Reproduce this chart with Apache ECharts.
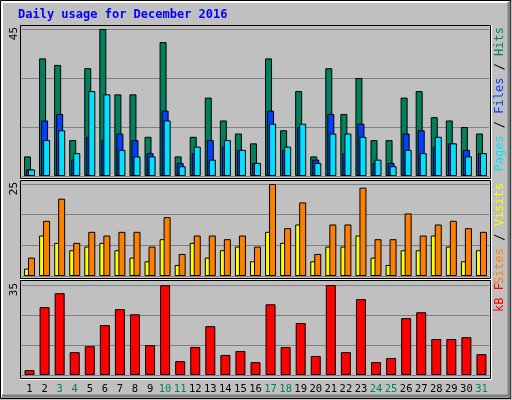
<!DOCTYPE html>
<html><head><meta charset="utf-8">
<script src="https://cdn.jsdelivr.net/npm/echarts@6/dist/echarts.min.js"></script>
<style>html,body{margin:0;padding:0;background:#c0c0c0}#c{width:512px;height:400px}</style>
</head><body><div id="c"></div>
<script>
const days = ['1','2','3','4','5','6','7','8','9','10','11','12','13','14','15','16','17','18','19','20','21','22','23','24','25','26','27','28','29','30','31'];
const weekend = ['3','4','10','11','17','18','24','25','31'];
const hits  = [6,36,34,11,33,45,25,25,12,41,6,12,24,17,13,10,36,14,26,6,33,19,30,11,11,24,26,18,17,15,13];
const files = [2,17,19,5,12,11,13,11,7,20,4,7,11,9,8,4,20,8,15,5,19,7,16,4,4,13,14,9,10,8,7];
const pages = [2,11,14,7,26,25,8,6,6,17,3,9,5,11,8,4,16,9,16,4,13,13,12,5,3,8,7,12,10,6,7];
const sites = [2,11,9,7,8,9,7,5,4,10,3,9,5,7,8,4,12,9,14,4,8,8,11,5,3,7,7,11,8,4,7];
const visits= [5,15,21,9,12,11,12,12,8,16,6,11,11,10,11,8,25,13,20,6,14,14,24,10,10,17,11,14,15,13,12];
const kbytes= [1.9,26.4,31.8,8.9,11.2,19.4,25.6,23.6,11.6,34.9,5.4,10.9,19,7.8,9.3,5,27.5,10.9,20.2,7.4,35,8.9,29.5,5,6.6,22.1,24.4,14,14,14.7,8.1];
const maxLabels = ['45','25','35'];
const maxVals = [45,25,35];

const F = 'DejaVu Sans Mono';
const grids = [
  {left:22,width:467,top:29,height:147},
  {left:22,width:467,top:184,height:92},
  {left:22,width:467,top:285,height:90}
];
const frames = [[20,25,470,153],[20,180,470,98],[20,280,470,98]];
const xAxis = grids.map((g,i)=>({type:'category',gridIndex:i,data:days,
  axisLine:{show:false},axisTick:{show:false},
  axisLabel:{show:i===2,margin:9,fontFamily:F,fontSize:10,interval:0,
    formatter:v=>weekend.includes(v)?'{w|'+v+'}':'{n|'+v+'}',
    rich:{w:{color:'#00805c',fontFamily:F,fontSize:10.5},n:{color:'#000',fontFamily:F,fontSize:10.5}}}}));
const yAxis = maxVals.map((m,i)=>({type:'value',gridIndex:i,min:0,max:m,interval:m/3,
  axisLabel:{show:false},axisLine:{show:false},axisTick:{show:false},
  splitLine:{lineStyle:{color:'#808080',width:1}}}));
const bs = c=>({color:c,borderColor:'#000',borderWidth:1});
const series = [
  {type:'bar',xAxisIndex:0,yAxisIndex:0,data:hits,barWidth:7,barGap:'-71%',itemStyle:bs('#00805c')},
  {type:'bar',xAxisIndex:0,yAxisIndex:0,data:files,barWidth:7,barGap:'-71%',itemStyle:bs('#0040ff')},
  {type:'bar',xAxisIndex:0,yAxisIndex:0,data:pages,barWidth:7,barGap:'-71%',itemStyle:bs('#00e0ff')},
  {type:'bar',xAxisIndex:1,yAxisIndex:1,data:sites,barWidth:7,barGap:'-43%',itemStyle:bs('#ffff00')},
  {type:'bar',xAxisIndex:1,yAxisIndex:1,data:visits,barWidth:7,barGap:'-43%',itemStyle:bs('#ff8000')},
  {type:'bar',xAxisIndex:2,yAxisIndex:2,data:kbytes,barWidth:10,itemStyle:bs('#ff0000')}
];
const graphic = [
  {type:'rect',z:-10,shape:{x:0.5,y:0.5,width:510,height:398},style:{fill:'#c0c0c0',stroke:'#000',lineWidth:1}},
  {type:'polyline',z:-9,shape:{points:[[2,397],[2,2],[509,2]]},style:{stroke:'#fff',lineWidth:2,fill:null}},
  {type:'polyline',z:-9,shape:{points:[[2,396],[509,396],[509,2]]},style:{stroke:'#808080',lineWidth:3,fill:null}},
  {type:'text',left:18,top:9,style:{text:'Daily usage for December 2016',font:'bold 12px '+F,fill:'#0000ff'}}
];
frames.forEach(f=>{
  graphic.push({type:'rect',z:-8,shape:{x:f[0]+0.5,y:f[1]+0.5,width:f[2],height:f[3]},style:{fill:'#c0c0c0',stroke:'#000',lineWidth:1}});
  graphic.push({type:'polyline',z:-7,shape:{points:[[f[0]+f[2]+1.5,f[1]],[f[0]+f[2]+1.5,f[1]+f[3]+1.5],[f[0],f[1]+f[3]+1.5]]},style:{stroke:'#fff',lineWidth:1,fill:null}});
});
[[14,grids[0].top],[14,grids[1].top],[14,grids[2].top]].forEach((p,i)=>{
  graphic.push({type:'text',x:p[0],y:p[1]-2,rotation:Math.PI/2,style:{text:maxLabels[i],font:'11px '+F,fill:'#000',align:'right',verticalAlign:'middle'}});
});
const rl = (y,parts)=>({type:'text',x:500,y:y,rotation:Math.PI/2,style:{
  rich:{a:{fill:'#00805c'},b:{fill:'#0040ff'},c:{fill:'#00e0ff'},d:{fill:'#000'},e:{fill:'#ff8000'},f:{fill:'#ffff00'},g:{fill:'#ff0000'}},
  text:parts,font:'12px '+F,align:'right',verticalAlign:'middle'}});
graphic.push(rl(27,'{c|Pages}{d| / }{b|Files}{d| / }{a|Hits}'));
graphic.push(rl(183,'{e|Sites}{d| / }{f|Visits}'));
graphic.push(rl(283,'{g|kB F}'));
const chart = echarts.init(document.getElementById('c'));
chart.setOption({animation:false,backgroundColor:'#c0c0c0',grid:grids,xAxis,yAxis,series,graphic});
</script></body></html>
